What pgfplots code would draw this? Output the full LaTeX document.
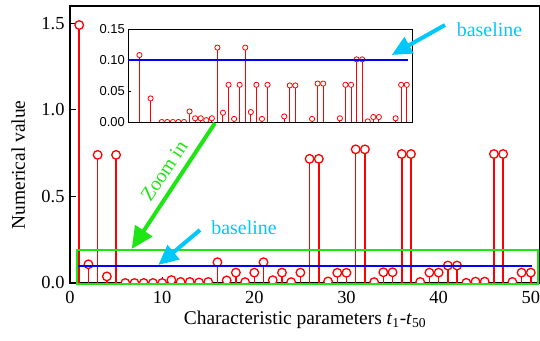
\documentclass[border=0pt]{standalone}
\usepackage{fontspec}
\setmainfont{Liberation Serif}
\newfontfamily\arialfont{Liberation Sans}
\usepackage{pgfplots}
\pgfplotsset{compat=1.18}
\usepackage{pgfplotstable}
\usetikzlibrary{arrows.meta}
\definecolor{myred}{RGB}{255,0,0}
\definecolor{myblue}{RGB}{0,0,255}
\definecolor{mycyan}{RGB}{0,200,250}
\definecolor{mygreen}{RGB}{30,230,20}

\pgfplotstableread{
x y
1 1.49
2 0.108
3 0.74
4 0.038
5 0.74
6 0
7 0
8 0
9 0
10 0
11 0.017
12 0.006
13 0.006
14 0.003
15 0.006
16 0.12
17 0.015
18 0.06
19 0.005
20 0.06
21 0.12
22 0.016
23 0.06
24 0.005
25 0.06
26 0.717
27 0.717
28 0.009
29 0.059
30 0.059
31 0.772
32 0.772
33 0.005
34 0.062
35 0.062
36 0.745
37 0.745
38 0.006
39 0.06
40 0.06
41 0.101
42 0.101
43 0.001
44 0.008
45 0.008
46 0.745
47 0.745
48 0.006
49 0.06
50 0.06
}\datatable

\begin{document}
\begin{tikzpicture}
\useasboundingbox (0bp,0bp) rectangle (540bp,341bp);
\begin{axis}[
  at={(70bp,58bp)}, anchor=south west,
  scale only axis, width=470bp, height=277bp,
  xmin=0, xmax=51, ymin=0, ymax=1.6,
  xtick={0,10,...,50}, ytick={0,0.5,1,1.5},
  yticklabel style={xshift=-2bp, /pgf/number format/.cd,fixed,fixed zerofill,precision=1},
  /pgf/number format/assume math mode=true,
  tick label style={font=\rmfamily\fontsize{18.5}{20}\selectfont},
  xticklabel style={yshift=-5bp},
  label style={font=\rmfamily\fontsize{19.5}{22}\selectfont},
  tick align=inside, xtick pos=bottom, ytick pos=left,
  major tick length=6bp,
  axis line style={line width=1.3bp},
  tick style={black, line width=1bp},
  xlabel={Characteristic parameters \textit{t}\textsubscript{1}-\textit{t}\textsubscript{50}},
  ylabel={Numerical value},
  xlabel style={at={(axis description cs:0.5,-0.134)}, anchor=center},
  ylabel style={at={(axis description cs:-0.11,0.426)}, anchor=center},
  clip mode=individual, clip marker paths=true,
]
\addplot[ycomb, draw=myred, line width=1.5bp, no marks] table {\datatable};
\addplot[only marks, mark=*, mark size=4.3bp,
  mark options={draw=myred, fill=white, line width=1.3bp}] table {\datatable};
\addplot[draw=myblue, line width=2bp, no marks] coordinates {(0.9,0.1) (50.1,0.1)};
\draw[mygreen, line width=2bp] (axis cs:0.8,-0.003) rectangle (axis cs:50.8,0.19);
\end{axis}

\begin{axis}[
  at={(128.3bp,219bp)}, anchor=south west,
  scale only axis, width=284bp, height=93bp,
  xmin=0, xmax=51, ymin=0, ymax=0.15,
  xtick={0,10,...,50}, xticklabels={},
  ytick={0,0.05,0.1,0.15},
  yticklabel style={/pgf/number format/.cd,fixed,fixed zerofill,precision=2},
  /pgf/number format/assume math mode=true,
  tick label style={font=\arialfont\fontsize{13}{14}\selectfont},
  tick align=inside, xtick pos=bottom, ytick pos=left,
  major tick length=3bp,
  axis line style={line width=0.9bp},
  tick style={black, line width=0.8bp},
  axis background/.style={fill=white},
  clip marker paths=true,
]
\addplot[ycomb, draw=myred, line width=1bp, no marks,
  restrict y to domain=0:0.15] table {\datatable};
\addplot[only marks, mark=*, mark size=2.6bp,
  mark options={draw=myred, fill=white, line width=0.8bp},
  restrict y to domain=0:0.15] table {\datatable};
\addplot[draw=myblue, line width=1.2bp, no marks] coordinates {(0,0.1) (50.2,0.1)};
\end{axis}

% annotations
\draw[mycyan, line width=4bp, -{Triangle[length=20bp,width=18bp]}] (445bp,316bp) -- (391.7bp,286bp);
\node[mycyan, anchor=base, font=\fontsize{20}{22}\selectfont] at (489.5bp,304.3bp) {baseline};
\draw[mycyan, line width=4bp, -{Triangle[length=20bp,width=18bp]}] (200bp,111bp) -- (158.3bp,76bp);
\node[mycyan, anchor=base, font=\fontsize{20}{22}\selectfont] at (244bp,106bp) {baseline};
\draw[mygreen, line width=4bp, -{Triangle[length=22bp,width=20bp]}] (215bp,218bp) -- (131.7bp,92bp);
\node[mygreen, rotate=56.3, font=\fontsize{20}{22}\selectfont] at (164bp,170bp) {Zoom in};
\end{tikzpicture}
\end{document}
